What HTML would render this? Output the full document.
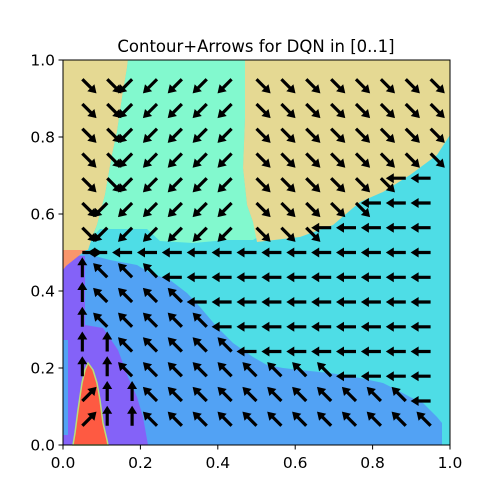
<!DOCTYPE html>
<html><head><meta charset="utf-8">
<style>
html,body{margin:0;padding:0;background:#fff;}
svg{display:block;font-family:"DejaVu Sans","Liberation Sans",sans-serif;}
</style></head>
<body>
<svg id="chart" width="500" height="500" viewBox="0 0 500 500">
  <text x="256" y="52" font-size="16.5" text-anchor="middle">Contour+Arrows for DQN in [0..1]</text>
  <g id="regions">
    <rect x="63" y="60" width="387" height="385" fill="#4edde6"/>
    <polygon fill="#52a2f4" points="80,255 87,254 110,260 137,265 150,273 170,280 187,293 200,307 217,327 233,343 253,357 267,365 283,368 300,370 330,373 360,378 383,383 397,390 410,397 423,403 437,417 442,423 442,445 63,445 63,262"/>
    <polygon fill="#8462f8" points="63,262 70,256 85,256 85,325 103,328 118,350 128,377 137,397 143,417 148,445 63,445"/>
    <rect x="63" y="340" width="5" height="95" fill="#52a2f4"/>
    <polygon fill="#fe5a42" stroke="#b8e07a" stroke-width="1.5" points="73,445 75,433 78,410 82,383 85,370 88,363 93,370 97,383 100,400 103,423 107,440 108,445"/>
    <polygon fill="#f9966c" points="63,250 86,250 76,258 66,266 63,270"/>
    <polygon fill="#e5d993" points="63,60 128,60 127,68 122,98 117,132 112,155 105,195 97,225 93,235 88,250 63,250"/>
    <polygon fill="#82f9ce" points="128,60 245,60 245,118 243,168 247,205 253,222 260,236 253,240 227,240 193,243 160,241 147,229 100,229 93,236 97,225 105,195 112,155 117,132 122,98 127,68"/>
    <polygon fill="#e5d993" points="245,60 450,60 450,135 437,155 410,175 383,192 360,202 333,225 300,237 257,242 253,222 247,205 243,168 245,118"/>
  </g>
  <g id="arrows"></g>
  <rect x="63" y="60" width="387" height="385" fill="none" stroke="#000" stroke-width="1"/>
  <g id="axes"></g>
</svg>
<script>
const gridX = [0.05,0.1143,0.1786,0.2429,0.3071,0.3714,0.4357,0.5,0.5643,0.6286,0.6929,0.7571,0.8214,0.8857,0.95];
const gridY = [0.05,0.1143,0.1786,0.2429,0.3071,0.3714,0.4357,0.5,0.5643,0.6286,0.6929,0.7571,0.8214,0.8857,0.95];
// actions per row (row 0 = y 0.05), per column
const actionRows = [
 "R U U N N N N N N N N N N N N",
 "R U U N N N N N N N N N N N W",
 "U U N N N N N N N N N W W W W",
 "U U N N N N N W W W W W W W W",
 "U N N N N N W W W W W W W W W",
 "U N N N N W W W W W W W W W W",
 "U N N N W W W W W W W W W W W",
 "E W W W W W W W W W W W W W W",
 "D L L L L L L D D D W W W W W",
 "D L L L L L L D D D D D W W W",
 "D D L L L L L D D D D D D W W",
 "D D L L L L L D D D D D D D D",
 "D D L L L L L D D D D D D D D",
 "D D L L L L L D D D D D D D D",
 "D D L L L L L D D D D D D D D"
];
const xTicks = [0.0,0.2,0.4,0.6,0.8,1.0];
const yTicks = [0.0,0.2,0.4,0.6,0.8,1.0];
const xTickLabels = ["0.0","0.2","0.4","0.6","0.8","1.0"];
const yTickLabels = ["0.0","0.2","0.4","0.6","0.8","1.0"];

const NS = "http://www.w3.org/2000/svg";
function sx(v){ return 63 + 387*v; }
function sy(v){ return 445 - 385*v; }
const dirs = {R:[1,1],U:[0,1],N:[-1,1],W:[-1,0],E:[1,0],D:[1,-1],L:[-1,-1]};

const ag = document.getElementById('arrows');
actionRows.forEach(function(row, j){
  row.split(' ').forEach(function(a, i){
    const d = dirs[a]; if(!d) return;
    const n = Math.hypot(d[0], d[1]);
    const ux = d[0]/n, uy = -d[1]/n;
    const px = -uy, py = ux;
    const x0 = sx(gridX[i]), y0 = sy(gridY[j]);
    const L = 20, hl = 8, hw = 5, sw = 1.6;
    const bx = x0 + ux*(L-hl), by = y0 + uy*(L-hl);
    const tx = x0 + ux*L, ty = y0 + uy*L;
    const pts = [
      [x0+px*sw, y0+py*sw],[bx+px*sw, by+py*sw],[bx+px*hw, by+py*hw],[tx,ty],
      [bx-px*hw, by-py*hw],[bx-px*sw, by-py*sw],[x0-px*sw, y0-py*sw]
    ].map(p=>p[0].toFixed(1)+','+p[1].toFixed(1)).join(' ');
    const el = document.createElementNS(NS,'polygon');
    el.setAttribute('points', pts);
    el.setAttribute('fill', '#000');
    
    
    ag.appendChild(el);
  });
});

const axg = document.getElementById('axes');
xTicks.forEach(function(v, k){
  const x = sx(v);
  const t = document.createElementNS(NS,'line');
  t.setAttribute('x1', x); t.setAttribute('x2', x); t.setAttribute('y1', 445); t.setAttribute('y2', 449.5);
  t.setAttribute('stroke', '#000');
  
  
  axg.appendChild(t);
  const lb = document.createElementNS(NS,'text');
  lb.setAttribute('x', x); lb.setAttribute('y', 468); lb.setAttribute('font-size', '15.5'); lb.setAttribute('text-anchor', 'middle');
  lb.textContent = xTickLabels[k];
  
  
  axg.appendChild(lb);
});
yTicks.forEach(function(v, k){
  const y = sy(v);
  const t = document.createElementNS(NS,'line');
  t.setAttribute('x1', 58.5); t.setAttribute('x2', 63); t.setAttribute('y1', y); t.setAttribute('y2', y);
  t.setAttribute('stroke', '#000');
  
  
  axg.appendChild(t);
  const lb = document.createElementNS(NS,'text');
  lb.setAttribute('x', 55); lb.setAttribute('y', y+5.5); lb.setAttribute('font-size', '15.5'); lb.setAttribute('text-anchor', 'end');
  lb.textContent = yTickLabels[k];
  
  
  axg.appendChild(lb);
});
</script>
</body></html>
